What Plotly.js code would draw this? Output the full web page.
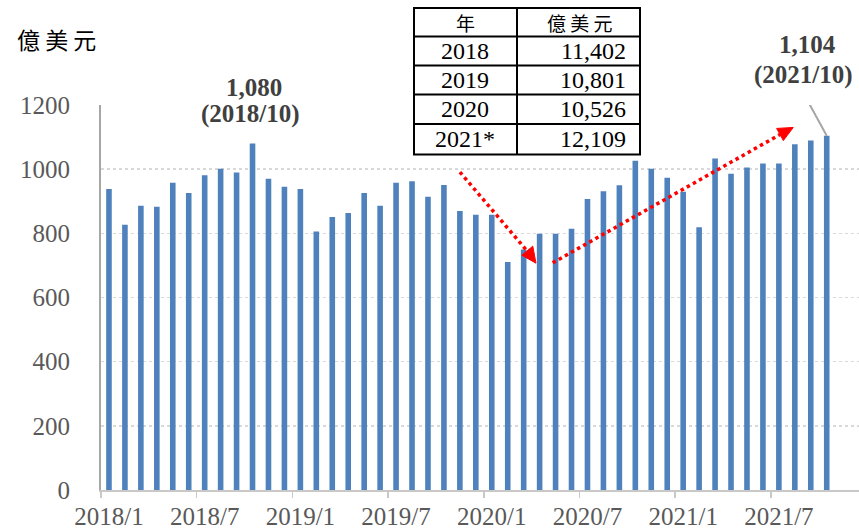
<!DOCTYPE html>
<html>
<head>
<meta charset="utf-8">
<script src="https://cdn.plot.ly/plotly-3.0.1.min.js"></script>
<style>html,body{margin:0;padding:0;background:#fff;}#chart{width:859px;height:532px;}</style>
</head>
<body>
<div id="chart"></div>
<script>
// ---- data ----
const categories = [
  "2018/1","2018/2","2018/3","2018/4","2018/5","2018/6","2018/7","2018/8","2018/9","2018/10","2018/11","2018/12",
  "2019/1","2019/2","2019/3","2019/4","2019/5","2019/6","2019/7","2019/8","2019/9","2019/10","2019/11","2019/12",
  "2020/1","2020/2","2020/3","2020/4","2020/5","2020/6","2020/7","2020/8","2020/9","2020/10","2020/11","2020/12",
  "2021/1","2021/2","2021/3","2021/4","2021/5","2021/6","2021/7","2021/8","2021/9","2021/10"
];
const exportValues = [
  938, 827, 886, 883, 958, 926, 981, 1001, 990, 1080, 970, 945,
  938, 806, 851, 863, 926, 886, 958, 962, 914, 951, 870, 858,
  858, 711, 750, 799, 799, 814, 907, 931, 950, 1026, 1001, 973,
  930, 819, 1033, 986, 1005, 1018, 1018, 1078, 1089, 1104
];
const tickLabels = ["2018/1","2018/7","2019/1","2019/7","2020/1","2020/7","2021/1","2021/7"];
const yTicks = [0, 200, 400, 600, 800, 1000, 1200];
const unitLabel = "億 美 元";
const tableHeader = ["年", "億 美 元"];
const tableYears = ["2018", "2019", "2020", "2021*"];
const tableTotals = ["11,402", "10,801", "10,526", "12,109"];
const peakLabels = [
  {cat: "2018/10", value: "1,080", date: "(2018/10)"},
  {cat: "2021/10", value: "1,104", date: "(2021/10)"}
];

// ---- layout helpers (pixel -> paper) ----
const L = 101, R = 0, T = 105, B = 42, W = 859, H = 532;
const pw = W - L - R, ph = H - T - B;
const xp = px => (px - L) / pw;
const yp = py => (H - B - py) / ph;

const xIdx = categories.map((c, i) => i);
const idx = c => categories.indexOf(c);

const serif = "Liberation Serif";
const cjk = "Noto Sans CJK TC";

const trace = {
  type: "bar",
  x: xIdx,
  y: exportValues,
  marker: {color: "#4f81bd"},
  hoverinfo: "skip"
};

const annotations = [];
const shapes = [];

// unit label
annotations.push({xref: "paper", yref: "paper", x: xp(56), y: yp(39), text: unitLabel,
  showarrow: false, xanchor: "center", yanchor: "middle",
  font: {family: cjk, size: 23, color: "#000"}});

// peak labels
const p1 = peakLabels[0], p2 = peakLabels[1];
const pf = {family: serif, size: 25, color: "#404040"};
annotations.push({xref: "x", yref: "paper", x: idx(p1.cat) + 0.1, y: yp(87), text: "<b>" + p1.value + "</b>",
  showarrow: false, xanchor: "center", yanchor: "middle", font: pf});
annotations.push({xref: "x", yref: "paper", x: idx(p1.cat) - 0.1, y: yp(114), text: "<b>" + p1.date + "</b>",
  showarrow: false, xanchor: "center", yanchor: "middle", font: pf});
annotations.push({xref: "x", yref: "paper", x: idx(p2.cat) - 1.2, y: yp(45), text: "<b>" + p2.value + "</b>",
  showarrow: false, xanchor: "center", yanchor: "middle", font: pf});
annotations.push({xref: "x", yref: "paper", x: idx(p2.cat) - 1.45, y: yp(75), text: "<b>" + p2.date + "</b>",
  showarrow: false, xanchor: "center", yanchor: "middle", font: pf});
// leader line to last bar
shapes.push({type: "line", xref: "x", yref: "y", x0: idx(p2.cat) - 1.36, y0: 1228,
  x1: idx(p2.cat), y1: exportValues[idx(p2.cat)], line: {color: "#a6a6a6", width: 2}});

// red dotted trend arrows (data coords)
const arrows = [
  {from: [22.0, 991], base: [26.2, 746], tip: [26.77, 707], c1: [25.88, 732], c2: [26.57, 760]},
  {from: [27.82, 708], base: [42.07, 1108], tip: [42.9, 1130], c1: [41.86, 1127], c2: [42.28, 1089]}
];
arrows.forEach(a => {
  shapes.push({type: "line", xref: "x", yref: "y", x0: a.from[0], y0: a.from[1], x1: a.base[0], y1: a.base[1],
    line: {color: "#ff0000", width: 3.5, dash: "dot"}, layer: "above"});
  shapes.push({type: "path", xref: "x", yref: "y",
    path: `M ${a.tip[0]} ${a.tip[1]} L ${a.c1[0]} ${a.c1[1]} L ${a.c2[0]} ${a.c2[1]} Z`,
    fillcolor: "#ff0000", line: {color: "#ff0000", width: 1}, layer: "above"});
});

// table
const tx0 = 414, tx1 = 640, tcol = 517;
const rowLines = [8, 36.5, 65.5, 94.5, 124, 154.5];
shapes.push({type: "rect", xref: "paper", yref: "paper", x0: xp(tx0), x1: xp(tx1), y0: yp(rowLines[0]), y1: yp(rowLines[5]),
  fillcolor: "#ffffff", line: {color: "#000", width: 2}, layer: "above"});
shapes.push({type: "line", xref: "paper", yref: "paper", x0: xp(tcol), x1: xp(tcol), y0: yp(rowLines[0]), y1: yp(rowLines[5]),
  line: {color: "#000", width: 2}, layer: "above"});
for (let i = 1; i < 5; i++) {
  shapes.push({type: "line", xref: "paper", yref: "paper", x0: xp(tx0), x1: xp(tx1), y0: yp(rowLines[i]), y1: yp(rowLines[i]),
    line: {color: "#000", width: 2}, layer: "above"});
}
const rowCenter = i => (rowLines[i] + rowLines[i + 1]) / 2;
annotations.push({xref: "paper", yref: "paper", x: xp(465), y: yp(rowCenter(0)), text: tableHeader[0], showarrow: false,
  xanchor: "center", yanchor: "middle", font: {family: cjk, size: 19, color: "#000"}});
annotations.push({xref: "paper", yref: "paper", x: xp(580), y: yp(rowCenter(0)), text: tableHeader[1], showarrow: false,
  xanchor: "center", yanchor: "middle", font: {family: cjk, size: 19, color: "#000"}});
tableYears.forEach((yr, i) => {
  annotations.push({xref: "paper", yref: "paper", x: xp(465), y: yp(rowCenter(i + 1)), text: yr, showarrow: false,
    xanchor: "center", yanchor: "middle", font: {family: serif, size: 24, color: "#000"}});
  annotations.push({xref: "paper", yref: "paper", x: xp(628), y: yp(rowCenter(i + 1)), text: tableTotals[i], showarrow: false,
    xanchor: "right", yanchor: "middle", font: {family: serif, size: 24, color: "#000"}});
});

const layout = {
  width: W, height: H,
  margin: {l: L, r: R, t: T, b: B, pad: 0},
  paper_bgcolor: "#fff", plot_bgcolor: "#fff",
  showlegend: false,
  bargap: 0.65,
  xaxis: {
    type: "linear",
    range: [-0.5, -0.5 + pw / 15.95],
    tickmode: "array",
    tickvals: tickLabels.map(idx),
    ticktext: tickLabels,
    ticks: "",
    showgrid: false, zeroline: false,
    showline: true, linecolor: "#c8c8c8", linewidth: 1.5,
    tickfont: {family: serif, size: 25, color: "#595959"},
    ticklabelstandoff: 3,
    minor: {tickmode: "linear", tick0: -0.5, dtick: 6, ticks: "outside", ticklen: 6, tickcolor: "#c8c8c8", tickwidth: 1.5, showgrid: false},
    fixedrange: true
  },
  yaxis: {
    range: [0, 1200],
    tickmode: "array", tickvals: yTicks,
    ticks: "",
    showgrid: true, gridcolor: "#d9d9d9", griddash: "dot", gridwidth: 1.5,
    zeroline: false,
    showline: true, linecolor: "#a6a6a6", linewidth: 2,
    tickfont: {family: serif, size: 25, color: "#595959"},
    ticklabelstandoff: 24,
    fixedrange: true
  },
  annotations: annotations,
  shapes: shapes
};

Plotly.newPlot("chart", [trace], layout, {staticPlot: true, displayModeBar: false});
</script>
</body>
</html>
